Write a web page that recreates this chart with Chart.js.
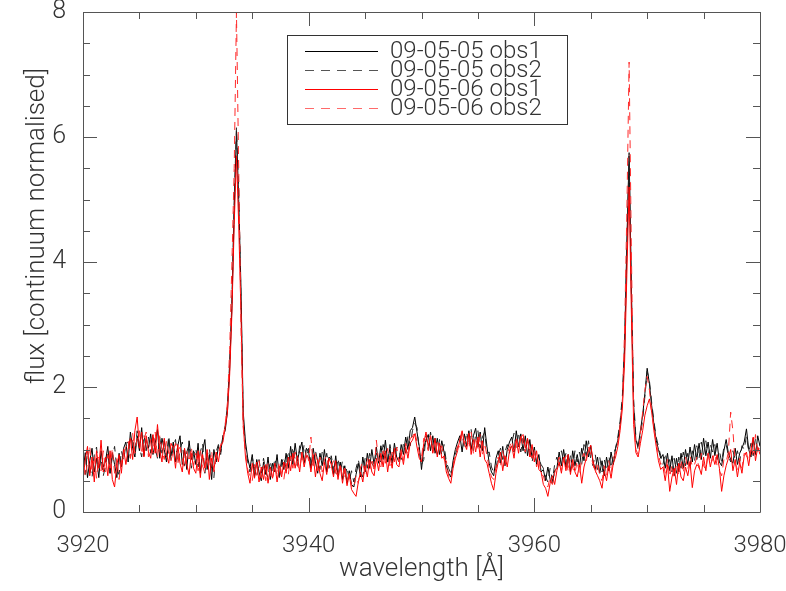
<!DOCTYPE html>
<html>
<head>
<meta charset="utf-8">
<script src="https://cdn.jsdelivr.net/npm/chart.js@4.4.1/dist/chart.umd.min.js"></script>
<style>
html, body { margin: 0; padding: 0; background: #fff; }
</style>
</head>
<body>
<canvas id="spectrum" width="786" height="591"></canvas>
<script>
// sampling grid of the spectra (Angstrom)
const wavelengthStart = 3920
const wavelengthStep = 0.2

const seriesLabels = ['09-05-05 obs1', '09-05-05 obs2', '09-05-06 obs1', '09-05-06 obs2']
const xTicks = [3920, 3940, 3960, 3980]
const yTicks = [0, 2, 4, 6, 8]

// flux values, one per 0.2 A from 3920 to 3980, 10 per line (2 A)
const flux_0505_obs1 = [
  0.62,0.95,0.55,0.82,1.02,0.64,0.86,0.55,0.98,0.72,
  0.82,1.05,0.62,0.95,0.76,0.55,0.94,0.72,1.02,1.12,
  0.80,1.28,1.02,0.88,1.22,0.98,1.35,0.90,1.16,1.02,
  1.25,0.92,1.10,1.32,0.86,1.18,1.00,0.80,1.16,0.90,
  1.12,0.80,1.06,1.22,0.76,1.00,0.68,1.14,0.84,0.98,
  0.76,1.10,0.62,0.98,1.16,0.68,0.92,0.52,1.00,0.80,
  1.05,0.96,1.22,1.30,1.60,2.30,3.30,4.80,6.10,5.00,
  3.60,1.60,1.12,0.86,0.70,0.92,0.56,0.84,0.64,0.50,
  0.80,0.60,0.88,0.52,0.78,0.64,0.92,0.56,0.84,0.68,
  0.94,0.70,1.05,0.76,1.10,0.82,0.98,1.12,0.78,1.02,
  0.96,0.70,1.02,0.80,0.62,0.94,0.74,1.00,0.64,0.88,
  0.84,0.60,0.90,0.58,0.80,0.52,0.74,0.46,0.66,0.44,
  0.40,0.60,0.78,0.56,0.88,0.64,0.94,0.70,1.00,0.76,
  1.04,0.78,1.06,0.84,1.15,0.80,1.02,0.78,1.10,0.88,
  0.80,1.08,0.92,1.20,1.00,1.30,1.35,1.52,1.28,1.05,
  0.68,1.02,1.16,1.24,0.98,1.22,0.94,1.18,0.92,1.14,
  0.96,0.74,0.62,0.56,0.82,1.00,1.12,1.22,0.96,1.25,
  1.05,1.30,1.00,1.22,1.34,1.04,1.28,0.98,1.35,1.05,
  0.78,0.64,0.58,0.86,0.98,0.78,1.05,0.74,1.00,1.12,
  1.20,0.96,1.30,1.04,1.25,0.98,1.22,0.90,1.16,0.86,
  1.04,0.76,0.92,0.64,0.68,0.50,0.72,0.52,0.45,0.66,
  0.70,0.96,0.74,1.00,0.72,0.92,0.64,0.98,0.74,0.92,
  0.72,1.02,0.82,1.14,0.88,1.06,0.80,0.68,0.88,0.62,
  0.82,0.58,0.88,0.66,0.96,0.76,1.02,1.15,1.40,1.75,
  2.60,4.20,5.70,3.50,1.70,1.15,1.05,1.30,1.55,1.90,
  2.30,2.05,1.70,1.40,1.15,1.00,0.86,0.92,0.70,0.94,
  0.66,0.90,0.58,0.86,0.64,0.94,0.70,1.00,0.76,1.04,
  0.80,1.08,0.84,1.10,0.84,1.18,0.90,1.12,0.86,1.16,
  0.90,1.10,0.80,0.74,0.98,1.16,0.94,0.84,0.78,1.02,
  0.76,0.94,1.02,1.12,1.33,1.00,0.88,1.18,0.92,1.22,
  1.05
]

const flux_0505_obs2 = [
  0.88,0.60,0.98,0.72,0.55,0.90,1.04,0.66,0.86,0.58,
  0.74,0.96,0.62,0.88,1.05,0.68,0.60,0.98,0.82,1.08,
  1.12,0.86,1.18,0.94,1.30,1.04,0.88,1.24,0.98,1.20,
  0.94,1.26,1.02,0.86,1.20,0.94,1.14,0.88,1.22,0.82,
  1.04,1.16,0.78,1.00,1.12,0.74,0.96,1.08,0.70,0.92,
  1.02,0.72,0.96,1.10,0.62,0.90,1.02,0.70,0.55,0.96,
  1.08,0.92,1.20,1.38,1.70,2.40,3.40,5.00,6.15,5.20,
  3.40,1.50,1.05,0.80,0.64,0.88,0.70,0.55,0.84,0.62,
  0.86,0.64,0.55,0.82,0.62,0.86,0.70,0.55,0.78,0.88,
  0.70,0.98,0.80,1.04,0.84,0.74,1.06,0.84,1.08,0.86,
  1.02,0.80,0.72,0.98,0.82,0.68,0.96,0.76,0.94,0.70,
  0.90,0.70,0.60,0.86,0.64,0.82,0.54,0.72,0.50,0.66,
  0.48,0.70,0.84,0.64,0.56,0.86,0.70,0.94,0.78,0.72,
  0.94,0.86,0.80,1.08,0.88,0.76,1.08,0.90,0.82,1.04,
  1.00,0.84,1.10,0.94,1.22,1.06,1.30,1.42,1.35,0.98,
  0.76,0.84,1.22,1.00,1.28,1.02,1.18,0.92,1.16,0.90,
  1.08,0.80,0.70,0.62,0.76,0.92,1.04,1.16,1.26,1.02,
  1.28,1.06,1.32,0.98,1.24,1.30,1.02,1.20,1.28,0.94,
  0.96,0.72,0.64,0.70,0.90,1.02,0.84,0.96,1.08,0.94,
  1.10,1.26,1.02,1.28,0.96,1.18,0.94,1.16,0.98,0.80,
  0.98,0.80,0.84,0.76,0.70,0.56,0.48,0.70,0.50,0.76,
  0.88,0.72,0.98,0.80,0.94,0.70,0.90,0.72,0.98,0.80,
  0.96,0.76,1.08,0.90,1.14,0.84,0.74,0.92,0.68,0.88,
  0.64,0.84,0.66,0.90,0.70,0.92,1.02,1.20,1.45,1.85,
  2.70,4.30,5.75,3.60,1.80,1.20,1.00,1.22,1.48,1.85,
  2.25,2.10,1.75,1.45,1.20,1.05,0.90,0.76,0.94,0.74,
  0.84,0.64,0.86,0.62,0.88,0.70,0.96,0.74,0.94,0.74,
  0.98,0.82,1.06,0.86,1.12,0.92,1.14,0.90,1.08,0.96,
  1.08,0.84,0.98,0.80,1.04,1.08,0.90,0.80,0.98,0.84,
  0.98,0.80,1.06,1.00,1.22,0.96,1.10,0.90,1.18,1.00,
  1.10
]

const flux_0506_obs1 = [
  0.52,0.84,1.05,0.58,0.88,0.48,0.98,0.70,1.15,0.64,
  0.88,0.58,0.98,0.52,0.40,0.76,0.92,0.62,1.00,0.76,
  1.00,1.18,0.84,1.30,1.52,1.02,1.28,0.88,1.22,0.96,
  0.86,1.24,0.94,1.40,1.00,0.80,1.18,0.92,0.78,1.10,
  1.02,0.70,1.08,0.78,0.64,1.02,0.76,0.60,0.94,0.70,
  0.62,0.98,0.55,0.92,0.70,1.00,0.52,0.86,0.66,0.96,
  0.80,1.05,1.12,1.35,1.60,2.20,3.20,4.60,5.70,4.60,
  3.20,1.40,0.88,0.62,0.46,0.78,0.54,0.80,0.48,0.72,
  0.52,0.76,0.46,0.72,0.54,0.78,0.48,0.74,0.56,0.80,
  0.62,0.88,0.66,0.94,0.70,0.90,0.64,0.96,0.72,0.90,
  0.88,0.64,0.92,0.56,0.84,0.62,0.50,0.80,0.60,0.86,
  0.76,0.56,0.82,0.52,0.74,0.46,0.70,0.42,0.60,0.36,
  0.30,0.25,0.48,0.64,0.48,0.74,0.56,0.84,0.64,0.58,
  0.86,0.66,0.94,0.72,0.98,0.64,0.90,0.70,1.02,0.76,
  0.72,0.96,0.76,1.04,0.86,1.10,1.15,1.25,1.04,0.86,
  0.80,1.10,1.28,1.04,1.22,0.94,1.18,0.88,1.10,0.86,
  0.90,0.64,0.54,0.46,0.70,0.86,0.98,1.16,1.30,1.10,
  1.00,1.26,0.92,1.16,0.96,1.20,0.88,1.14,0.84,0.78,
  0.62,0.46,0.35,0.62,0.80,0.96,0.66,0.90,0.72,0.98,
  1.06,0.86,1.16,0.94,1.20,1.24,1.02,1.18,0.88,1.08,
  0.80,0.98,0.68,0.64,0.44,0.38,0.25,0.46,0.58,0.44,
  0.66,0.80,0.62,0.88,0.66,0.92,0.60,0.84,0.64,0.56,
  0.76,0.46,0.72,0.86,0.98,1.07,0.82,0.66,0.58,0.50,
  0.38,0.66,0.50,0.74,0.54,0.78,0.88,1.05,1.30,1.65,
  2.40,3.80,5.20,3.20,1.40,0.95,0.88,1.10,1.30,1.55,
  1.70,1.81,1.60,1.30,1.05,0.82,0.68,0.72,0.50,0.76,
  0.33,0.56,0.70,0.44,0.78,0.56,0.50,0.72,0.58,0.80,
  0.39,0.66,0.76,0.72,0.60,0.88,0.66,0.94,0.72,0.90,
  0.76,0.92,0.70,0.33,0.58,0.74,0.86,1.00,0.66,0.84,
  0.56,0.80,0.62,0.90,0.96,0.74,1.00,1.20,0.82,1.04,
  0.92
]

const flux_0506_obs2 = [
  0.94,0.56,0.80,1.05,0.64,0.90,0.54,0.88,0.66,0.98,
  0.64,0.92,0.70,1.02,0.62,0.86,0.52,0.80,0.94,1.04,
  1.14,0.86,1.26,0.94,1.18,1.30,0.92,1.16,1.28,0.88,
  1.16,0.94,1.28,0.86,1.22,1.00,0.84,1.14,0.94,0.82,
  0.98,1.10,0.76,1.04,0.84,0.70,0.98,0.80,1.04,0.74,
  0.94,0.66,1.00,0.74,0.62,0.90,0.72,0.98,0.64,0.88,
  0.92,1.08,1.18,1.40,1.75,2.60,4.00,5.50,8.00,5.50,
  3.00,1.35,0.94,0.68,0.56,0.50,0.76,0.58,0.82,0.54,
  0.74,0.50,0.78,0.60,0.52,0.76,0.58,0.80,0.62,0.52,
  0.78,0.60,0.90,0.70,0.96,0.74,0.68,0.94,0.76,0.98,
  0.82,1.20,0.74,0.94,0.66,0.88,0.64,0.84,0.90,0.66,
  0.72,0.82,0.64,0.56,0.78,0.54,0.74,0.48,0.62,0.42,
  0.38,0.58,0.46,0.72,0.80,0.60,0.88,0.66,0.86,0.64,
  1.15,0.80,0.72,0.98,0.78,1.02,0.74,0.96,0.80,1.04,
  0.80,1.00,0.82,1.10,0.94,1.18,1.20,1.30,1.12,0.96,
  0.86,1.18,1.14,0.98,1.22,1.02,0.92,1.16,0.96,1.06,
  0.84,0.82,0.58,0.50,0.74,0.92,1.06,1.04,1.25,1.08,
  1.22,1.02,1.28,0.94,1.20,1.02,1.24,0.92,1.10,0.90,
  0.70,0.56,0.52,0.72,0.88,0.72,0.98,0.76,0.94,1.04,
  1.14,0.94,1.20,1.00,1.24,1.08,0.96,1.14,0.94,0.86,
  1.00,0.72,0.86,0.60,0.58,0.44,0.40,0.56,0.44,0.62,
  0.74,0.88,0.66,0.82,0.90,0.64,0.86,0.70,0.62,0.82,
  0.60,0.86,0.94,0.80,1.04,0.92,0.76,0.62,0.80,0.58,
  0.50,0.74,0.58,0.82,0.62,0.86,0.95,1.10,1.40,1.75,
  2.90,4.80,7.20,4.20,1.60,1.00,0.92,1.25,1.60,1.95,
  2.17,1.95,1.60,1.35,1.12,0.92,0.76,0.80,0.62,0.84,
  0.56,0.76,0.54,0.78,0.58,0.84,0.62,0.88,0.68,0.90,
  0.72,0.76,0.88,0.70,0.94,0.74,0.68,0.96,0.76,0.84,
  0.94,0.74,0.66,0.58,0.84,0.80,0.96,1.60,1.30,0.78,
  0.68,0.86,0.70,0.94,0.90,0.82,1.06,0.88,1.24,0.94,
  1.02
]

const textColor = '#333'
const frameColor = '#555'
const titleFont = '300 26px Roboto, "DejaVu Sans", sans-serif'

function toPoints(values) {
  return values.map(function(v, i) {
    return { x: wavelengthStart + i * wavelengthStep, y: v }
  })
}

var styles = [
  { color: '#000000', dash: [], order: 4 },
  { color: '#222222', dash: [8, 6], order: 3 },
  { color: '#ff0000', dash: [], order: 2 },
  { color: '#ff2a2a', dash: [8, 6], order: 1 }
]
var allFlux = [flux_0505_obs1, flux_0505_obs2, flux_0506_obs1, flux_0506_obs2]

var datasets = allFlux.map(function(values, k) {
  return {
    label: seriesLabels[k],
    data: toPoints(values),
    borderColor: styles[k].color,
    borderDash: styles[k].dash,
    borderWidth: 1,
    pointRadius: 0,
    tension: 0,
    fill: false,
    order: styles[k].order
  }
})

// IDL style box: ticks pointing inwards on all four sides, titles, legend in the plot
var idlFrame = {
  id: 'idlFrame',
  afterDraw: function(chart) {
    var ctx = chart.ctx
    var a = chart.chartArea
    var xs = chart.scales.x, ys = chart.scales.y
    ctx.save()
    ctx.strokeStyle = frameColor
    ctx.lineWidth = 1
    ctx.beginPath()
    ctx.rect(a.left + 0.5, a.top + 0.5, a.right - a.left, a.bottom - a.top)
    for (var w = 3920; w <= 3980; w += 5) {
      var px = Math.round(xs.getPixelForValue(w)) + 0.5
      var len = (w % 20 === 0) ? 14 : 7
      ctx.moveTo(px, a.bottom); ctx.lineTo(px, a.bottom - len)
      ctx.moveTo(px, a.top); ctx.lineTo(px, a.top + len)
    }
    for (var f = 0; f <= 8; f += 0.5) {
      var py = Math.round(ys.getPixelForValue(f)) + 0.5
      var ylen = (f % 2 === 0) ? 14 : 7
      ctx.moveTo(a.left, py); ctx.lineTo(a.left + ylen, py)
      ctx.moveTo(a.right, py); ctx.lineTo(a.right - ylen, py)
    }
    ctx.stroke()

    // axis titles
    ctx.fillStyle = textColor
    ctx.font = titleFont
    ctx.textAlign = 'center'
    ctx.textBaseline = 'middle'
    ctx.fillText('wavelength [Å]', (a.left + a.right) / 2, 569)
    ctx.save()
    ctx.translate(37, 226)
    ctx.rotate(-Math.PI / 2)
    ctx.fillText('flux [continuum normalised]', 0, 0)
    ctx.restore()

    // legend box
    ctx.fillStyle = '#fff'
    ctx.fillRect(287, 35, 280, 89)
    ctx.strokeStyle = '#333'
    ctx.strokeRect(287.5, 35.5, 280, 89)
    ctx.font = '300 24px Roboto, "DejaVu Sans", sans-serif'
    ctx.textAlign = 'left'
    var rowY = [51, 70, 89, 108]
    var legendColors = ['#000000', '#555555', '#ff0000', '#ff6a6a']
    for (var k = 0; k < 4; k++) {
      ctx.beginPath()
      ctx.strokeStyle = legendColors[k]
      ctx.lineWidth = 1
      ctx.setLineDash(styles[k].dash.length ? [9, 7] : [])
      ctx.moveTo(305, rowY[k] + 0.5)
      ctx.lineTo(378, rowY[k] + 0.5)
      ctx.stroke()
      ctx.setLineDash([])
      ctx.fillStyle = textColor
      ctx.fillText(seriesLabels[k], 390, rowY[k] + 1)
    }
    ctx.restore()
  }
}

function plainLabel(value) { return String(value) }

var chart = new Chart(document.getElementById('spectrum').getContext('2d'), {
  type: 'line',
  data: { datasets: datasets },
  options: {
    responsive: false,
    animation: false,
    layout: { padding: { left: 0, right: 26, top: 12, bottom: 0 } },
    plugins: { legend: { display: false }, tooltip: { enabled: false } },
    scales: {
      x: {
        type: 'linear',
        min: 3920,
        max: 3980,
        afterBuildTicks: function(scale) {
          scale.ticks = xTicks.map(function(v) { return { value: v } })
        },
        afterFit: function(scale) {
          scale.height = 79
          scale.paddingLeft = 0
          scale.paddingRight = 0
        },
        grid: { display: false },
        border: { display: false },
        ticks: { color: textColor, font: { family: 'Roboto', size: 24, weight: '300' }, padding: 12, maxRotation: 0, callback: plainLabel }
      },
      y: {
        min: 0,
        max: 8,
        afterBuildTicks: function(scale) {
          scale.ticks = yTicks.map(function(v) { return { value: v } })
        },
        afterFit: function(scale) {
          scale.width = 83
          scale.paddingTop = 0
          scale.paddingBottom = 0
        },
        grid: { display: false },
        border: { display: false },
        ticks: { color: textColor, font: { family: 'Roboto', size: 25, weight: '300' }, padding: 9, callback: plainLabel }
      }
    }
  },
  plugins: [idlFrame]
})
</script>
</body>
</html>
